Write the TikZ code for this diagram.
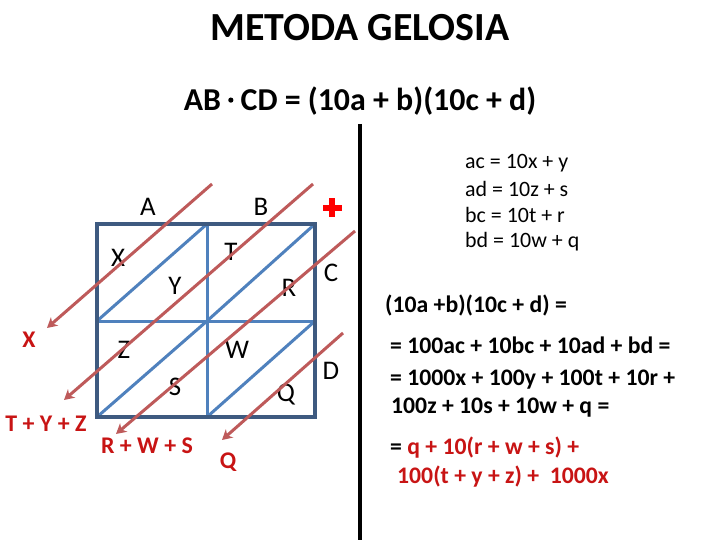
\documentclass[tikz,border=0pt]{standalone}
\usepackage{fontspec}
\setmainfont{Carlito}
\usetikzlibrary{arrows.meta}
\definecolor{frame}{RGB}{62,90,128}
\definecolor{inner}{RGB}{79,129,189}
\definecolor{arr}{RGB}{190,90,90}
\definecolor{txtred}{RGB}{200,20,20}
\begin{document}
\begin{tikzpicture}[x=1bp,y=-1bp,
  lbl/.style={inner sep=0pt,font=\fontsize{27}{27}\selectfont},
  rlbl/.style={inner sep=0pt,text=txtred,font=\bfseries\fontsize{24}{24}\selectfont},
  eq/.style={inner sep=0pt,anchor=west,font=\fontsize{22}{22}\selectfont},
  beq/.style={inner sep=0pt,anchor=west,font=\bfseries\fontsize{23.8}{23.8}\selectfont},
  diag/.style={arr,line width=3bp,-{Stealth[length=10bp,width=11bp,inset=3bp]}},
  innerline/.style={inner,line width=3bp},
]
\useasboundingbox (0,0) rectangle (720,540);
\fill[white] (0,0) rectangle (720,540);
% title
\node[inner sep=0pt,font=\bfseries\fontsize{40}{40}\selectfont] (title) at (360,28) {METODA GELOSIA};
\node[inner sep=0pt,font=\bfseries\fontsize{32}{32}\selectfont] (sub) at (360,101) {AB \raisebox{0.5ex}{\tikz\fill (0,0) circle (2.6bp);} CD = (10a + b)(10c + d)};
% vertical line
\coordinate (vt) at (360,124);
\coordinate (vb) at (360,540);
\draw[line width=4bp] (vt) -- (vb);
% grid
\coordinate (g00) at (97,224); \coordinate (g10) at (207,224); \coordinate (g20) at (315,224);
\coordinate (g01) at (97,321); \coordinate (g11) at (207,321); \coordinate (g21) at (315,321);
\coordinate (g02) at (97,417); \coordinate (g12) at (207,417); \coordinate (g22) at (315,417);
\draw[innerline] (g10) -- (g12);
\draw[innerline] (g01) -- (g21);
\draw[innerline] (g01) -- (g10);
\draw[innerline] (g11) -- (g20);
\draw[innerline] (g02) -- (g11);
\draw[innerline] (g12) -- (g21);
\draw[frame,line width=4bp] (g00) rectangle (g22);
% labels
\node[lbl] (A) at (148,207) {A};
\node[lbl] (B) at (261,207) {B};
\node[lbl] (X) at (118,258) {X};
\node[lbl] (Y) at (175,286) {Y};
\node[lbl] (T) at (231,252) {T};
\node[lbl] (R) at (289,288) {R};
\node[lbl] (C) at (331,273) {C};
\node[lbl] (Z) at (124,350) {Z};
\node[lbl] (W) at (237,350) {W};
\node[lbl] (S) at (175,387) {S};
\node[lbl] (Q) at (286,395) {Q};
\node[lbl] (D) at (331,371) {D};
% red plus
\node[inner sep=0pt,minimum size=0pt] (plus) at (332,208) {};
\fill[red] ([xshift=-3.4bp,yshift=-9.5bp]plus.center) rectangle ([xshift=3.4bp,yshift=9.5bp]plus.center);
\fill[red] ([xshift=-9.5bp,yshift=-3.4bp]plus.center) rectangle ([xshift=9.5bp,yshift=3.4bp]plus.center);
% arrows
\coordinate (a1s) at (212,184); \coordinate (a1e) at (47,328);
\coordinate (a2s) at (313,184); \coordinate (a2e) at (64,400);
\coordinate (a3s) at (355,231); \coordinate (a3e) at (116,434);
\coordinate (a4s) at (343,333); \coordinate (a4e) at (222,440);
\draw[diag] (a1s) -- (a1e);
\draw[diag] (a2s) -- (a2e);
\draw[diag] (a3s) -- (a3e);
\draw[diag] (a4s) -- (a4e);
% red result labels
\node[rlbl] (rx) at (29,340) {X};
\node[rlbl] (rtyz) at (46,424) {T + Y + Z};
\node[rlbl] (rrws) at (147,446) {R + W + S};
\node[rlbl] (rq) at (228,462) {Q};
% right equations
\node[eq] (e1) at (465,163) {ac = 10x + y};
\node[eq] (e2) at (465,189) {ad = 10z + s};
\node[eq] (e3) at (465,215) {bc = 10t + r};
\node[eq] (e4) at (465,242) {bd = 10w + q};
\node[beq] (f1) at (385,305) {(10a +b)(10c + d) =};
\node[beq] (f2) at (390,345) {= 100ac + 10bc + 10ad + bd =};
\node[beq] (f3) at (390,380) {= 1000x + 100y + 100t + 10r +};
\node[beq] (f4) at (391,408) {100z + 10s + 10w + q =};
\node[beq] (f5) at (390,448) {= \textcolor{txtred}{q + 10(r + w + s) +}};
\node[beq,text=txtred] (f6) at (397,477) {100(t + y + z) +\ \ 1000x};
\end{tikzpicture}
\end{document}
